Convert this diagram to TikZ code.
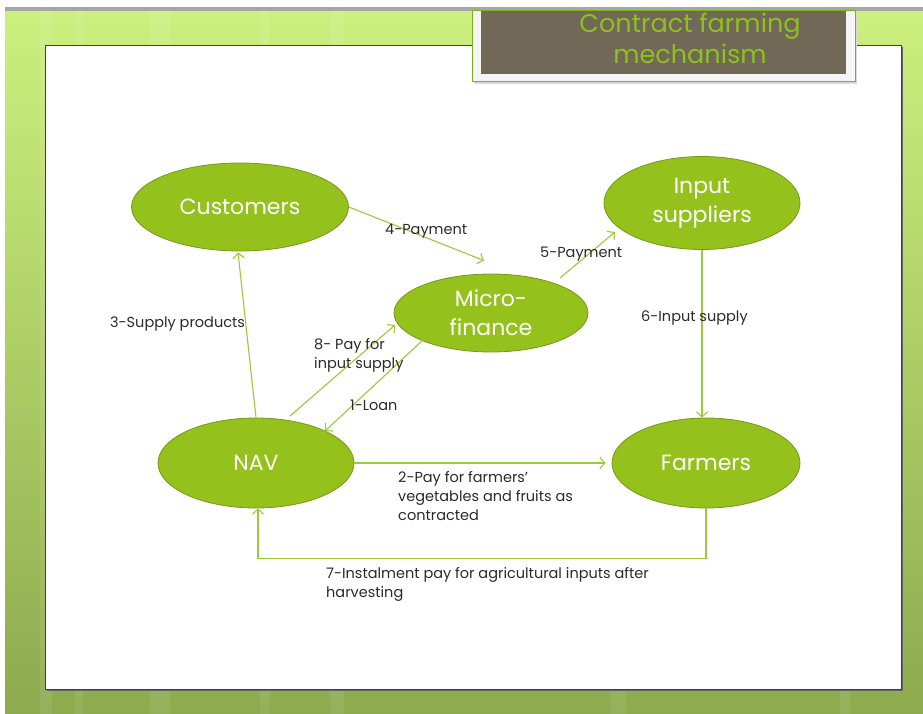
\documentclass[tikz,border=0pt]{standalone}
\usepackage{fontspec}
\setmainfont{Poppins}
\usetikzlibrary{shapes.geometric,arrows.meta,positioning}
\definecolor{bgtop}{HTML}{CBF07E}
\definecolor{bgbot}{HTML}{8DAA4E}
\definecolor{titlebg}{HTML}{726858}
\definecolor{titletxt}{HTML}{8CC21A}
\definecolor{framegreen}{HTML}{7AB317}
\definecolor{nodefill}{HTML}{94C11C}
\definecolor{nodeedge}{HTML}{76991A}
\definecolor{arrowc}{HTML}{9ACB3A}
\definecolor{labtxt}{HTML}{2E2A2A}
\tikzset{
  ell/.style={ellipse, fill=nodefill, draw=nodeedge, line width=0.8pt, inner sep=0pt,
    text=white, font=\fontsize{22}{29}\selectfont, align=center},
  arr/.style={draw=arrowc, line width=1.1pt, -{Straight Barb[length=5pt,width=11pt]}},
  lab/.style={text=labtxt, font=\fontsize{14.5}{19}\selectfont, align=left, inner sep=0pt, anchor=west}
}
\begin{document}
\begin{tikzpicture}[x=1pt,y=-1pt]
\useasboundingbox (0,0) rectangle (923,714);
\fill[white] (0,0) rectangle (923,714);
% background
\shade[top color=bgtop, bottom color=bgbot] (5,11) rectangle (923,714);
\fill[gray!70] (5,7) rectangle (923,11);
\foreach \x/\w in {40/12,75/8,150/20,260/10,330/14,610/16,840/10} {
  \fill[white,opacity=0.08] (\x,11) rectangle (\x+\w,714);
}
% white panel
\fill[black!60] (47,47) rectangle (903,691);
\fill[white] (45,45) rectangle (901,689);
\draw[black!75, line width=0.8pt] (45,45) rectangle (901,689);
% title box
\fill[black!15] (474,13) rectangle (857,84);
\filldraw[fill=white!96!black, draw=framegreen, line width=1pt] (472,11) rectangle (855,82);
\fill[titlebg] (481,11) rectangle (846,74);
\node[text=titletxt, font=\fontsize{25.5}{31}\selectfont, align=center] (title) at (690,38) {Contract farming\\mechanism};
% nodes
\node[ell, minimum width=217pt, minimum height=88pt] (cust) at (240,207) {Customers};
\node[ell, minimum width=196pt, minimum height=93pt] (isup) at (702,203) {Input\\suppliers};
\node[ell, minimum width=194pt, minimum height=78pt] (mf) at (491,313) {Micro-\\finance};
\node[ell, minimum width=196pt, minimum height=90pt] (nav) at (256,463) {NAV};
\node[ell, minimum width=188pt, minimum height=90pt] (farm) at (706,463) {Farmers};
% connectors
\draw[arr] (cust.east) -- ([shift={(-7,-13)}]mf.north);
\draw[arr] ([shift={(69,-35)}]mf.center) -- ([shift={(-87,29)}]isup.center);
\draw[arr] (isup.south) -- (isup.south |- farm.north);
\draw[arr] (nav.north) -- ([shift={(-2,1)}]cust.south);
\draw[arr] ([shift={(34,-47)}]nav.center) -- ([shift={(-96,12)}]mf.center);
\draw[arr] ([shift={(-68,27)}]mf.center) -- ([shift={(69,-32)}]nav.center);
\draw[arr] (nav.east) -- ([xshift=-6pt]farm.west);
\coordinate (c7a) at ([yshift=-50pt]farm.south);
\coordinate (c7b) at ([xshift=2pt]nav.south |- c7a);
\draw[arr] (farm.south) -- (c7a) -- (c7b) -- ([xshift=2pt]nav.south);
% labels
\node[lab] (l4) at (385,231) {4-Payment};
\node[lab] (l5) at (540,254) {5-Payment};
\node[lab] (l6) at (641,318) {6-Input supply};
\node[lab] (l3) at (110,324) {3-Supply products};
\node[lab] (l8) at (314,355) {8- Pay for\\input supply};
\node[lab] (l1) at (350,405) {1-Loan};
\node[lab] (l2) at (398,496) {2-Pay for farmers'\\vegetables and fruits as\\contracted};
\node[lab] (l7) at (326,584) {7-Instalment pay for agricultural inputs after\\harvesting};
\end{tikzpicture}
\end{document}
